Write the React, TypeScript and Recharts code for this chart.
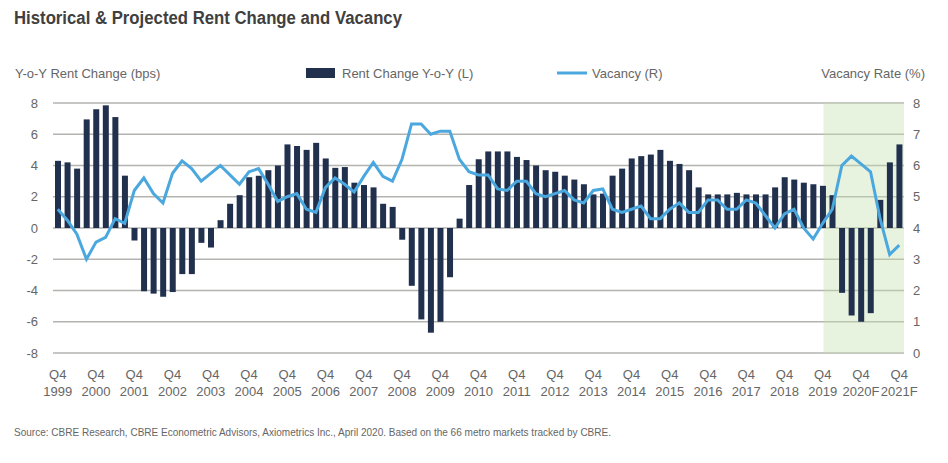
import { ComposedChart, Bar, Line, XAxis, YAxis, CartesianGrid, ReferenceArea } from 'recharts';

const YEARS = [
  '2000', '2001', '2002', '2003', '2004', '2005', '2006', '2007', '2008', '2009', '2010',
  '2011', '2012', '2013', '2014', '2015', '2016', '2017', '2018', '2019', '2020F', '2021F',
];
const QUARTERS = ['Q1', 'Q2', 'Q3', 'Q4'];

// quarter labels, Q4 1999 .. Q4 2021F
const CATEGORIES = ['Q4 1999', ...YEARS.flatMap((y) => QUARTERS.map((q) => `${q} ${y}`))];

// Y-o-Y rent change (left axis)
const RENT_CHANGE = [
  4.3, 4.2, 3.8, 6.95, 7.6, 7.85, 7.1, 3.35, -0.8, -4.05, -4.2, -4.4, -4.1, -2.95, -2.95, -0.95,
  -1.25, 0.5, 1.55, 2.1, 3.25, 3.35, 3.7, 4.0, 5.35, 5.25, 5.0, 5.45, 4.45, 3.85, 3.9, 2.9,
  2.75, 2.6, 1.55, 1.35, -0.75, -3.7, -5.85, -6.7, -6.0, -3.15, 0.6, 2.75, 4.4, 4.9, 4.9, 4.9,
  4.55, 4.35, 4.0, 3.7, 3.6, 3.35, 3.1, 2.8, 2.15, 2.2, 3.35, 3.8, 4.45, 4.6, 4.7, 5.0,
  4.3, 4.1, 3.7, 2.6, 2.15, 2.15, 2.15, 2.25, 2.15, 2.15, 2.15, 2.6, 3.25, 3.1, 2.9, 2.8,
  2.7, 2.1, -4.15, -5.6, -6.0, -5.45, 1.8, 4.2, 5.35,
];

// vacancy rate % (right axis)
const VACANCY = [
  4.6, 4.25, 3.8, 3.0, 3.55, 3.7, 4.3, 4.15, 5.2, 5.6, 5.1, 4.8, 5.75, 6.15, 5.9, 5.5,
  5.75, 6.0, 5.7, 5.4, 5.8, 5.9, 5.4, 4.85, 5.0, 5.1, 4.6, 4.5, 5.3, 5.6, 5.4, 5.15,
  5.65, 6.1, 5.65, 5.5, 6.2, 7.33, 7.33, 7.0, 7.1, 7.1, 6.2, 5.8, 5.7, 5.7, 5.25, 5.2,
  5.5, 5.5, 5.1, 5.0, 5.1, 5.2, 4.9, 4.8, 5.2, 5.25, 4.6, 4.5, 4.6, 4.7, 4.3, 4.3,
  4.6, 4.8, 4.5, 4.5, 4.9, 4.9, 4.6, 4.6, 4.9, 4.8, 4.4, 4.0, 4.45, 4.6, 4.0, 3.65,
  4.15, 4.6, 6.0, 6.3, 6.05, 5.8, 4.3, 3.15, 3.45,
];

const LEFT_TICKS = [-8, -6, -4, -2, 0, 2, 4, 6, 8];
const RIGHT_TICKS = [0, 1, 2, 3, 4, 5, 6, 7, 8];
const FORECAST_START = 'Q1 2020F';

const data = CATEGORIES.map((q, i) => ({ q, rent: RENT_CHANGE[i], vacancy: VACANCY[i] }));

const NAVY = '#21304d';
const BLUE = '#4ba8de';
const TEXT = '#666666';
const FONT = '"Liberation Sans", Arial, sans-serif';

// only Q4 gets a label, two lines
function QuarterTick(props: any) {
  const { x, y, payload } = props;
  const [q, yr] = String(payload.value).split(' ');
  if (q !== 'Q4') return null;
  return (
    <g transform={`translate(${x},${y})`}>
      <text textAnchor="middle" fill={TEXT} fontSize={13} fontFamily={FONT}>
        <tspan x={0} dy={18}>Q4</tspan>
        <tspan x={0} dy={17}>{yr}</tspan>
      </text>
    </g>
  );
}

// forecast shading begins a little before the first forecast bar; translucent so gridlines show
function ForecastArea(props: any) {
  const { x, y, width, height } = props;
  return <rect x={x - 4} y={y} width={width + 4} height={height} fill="#c5e2ae" fillOpacity={0.4} />;
}

export default function App() {
  return (
    <div style={{ position: 'absolute', left: 0, top: 0, width: 948, height: 463, background: '#fff' }}>
      <ComposedChart
        width={948}
        height={463}
        data={data}
        margin={{ top: 103, right: 8, bottom: 65, left: 8 }}
        barSize={6}
      >
        <ReferenceArea yAxisId="left" x1={FORECAST_START} x2="Q4 2021F" y1={-8} y2={8} shape={<ForecastArea />} />
        <CartesianGrid yAxisId="left" vertical={false} stroke="#b3b3b0" strokeWidth={1.5} />
        <XAxis dataKey="q" interval={0} tick={<QuarterTick />} tickLine={false} axisLine={false} height={45} />
        <YAxis
          yAxisId="left"
          domain={[-8, 8]}
          ticks={LEFT_TICKS}
          width={45}
          tickLine={false}
          axisLine={false}
          tickMargin={9}
          tick={{ fontSize: 13, fill: TEXT, fontFamily: FONT }}
        />
        <YAxis
          yAxisId="right"
          orientation="right"
          domain={[0, 8]}
          ticks={RIGHT_TICKS}
          width={36}
          tickLine={false}
          axisLine={false}
          tickMargin={3}
          tick={{ fontSize: 13, fill: TEXT, fontFamily: FONT, textAnchor: 'start' }}
        />
        <Bar yAxisId="left" dataKey="rent" fill={NAVY} isAnimationActive={false} />
        <Line
          yAxisId="right"
          dataKey="vacancy"
          type="linear"
          stroke={BLUE}
          strokeWidth={3}
          dot={false}
          isAnimationActive={false}
        />
      </ComposedChart>
      <svg width={948} height={463} style={{ position: 'absolute', left: 0, top: 0, pointerEvents: 'none' }}>
        <text x={14} y={24} fontSize={18} fontWeight="bold" fill="#404040" fontFamily={FONT} textLength={388} lengthAdjust="spacingAndGlyphs">
          Historical &amp; Projected Rent Change and Vacancy
        </text>
        <text x={15} y={78} fontSize={13} fill={TEXT} fontFamily={FONT}>Y-o-Y Rent Change (bps)</text>
        <rect x={306} y={68} width={29} height={10} fill={NAVY} />
        <text x={342} y={78} fontSize={13} fill={TEXT} fontFamily={FONT}>Rent Change Y-o-Y (L)</text>
        <line x1={557} y1={73} x2={587} y2={73} stroke={BLUE} strokeWidth={3} />
        <text x={592} y={78} fontSize={13} fill={TEXT} fontFamily={FONT}>Vacancy (R)</text>
        <text x={925} y={78} fontSize={13} fill={TEXT} fontFamily={FONT} textAnchor="end">Vacancy Rate (%)</text>
        <text x={14} y={436} fontSize={11.5} fill={TEXT} fontFamily={FONT} textLength={597} lengthAdjust="spacingAndGlyphs">
          Source: CBRE Research, CBRE Econometric Advisors, Axiometrics Inc., April 2020. Based on the 66 metro markets tracked by CBRE.
        </text>
      </svg>
    </div>
  );
}
